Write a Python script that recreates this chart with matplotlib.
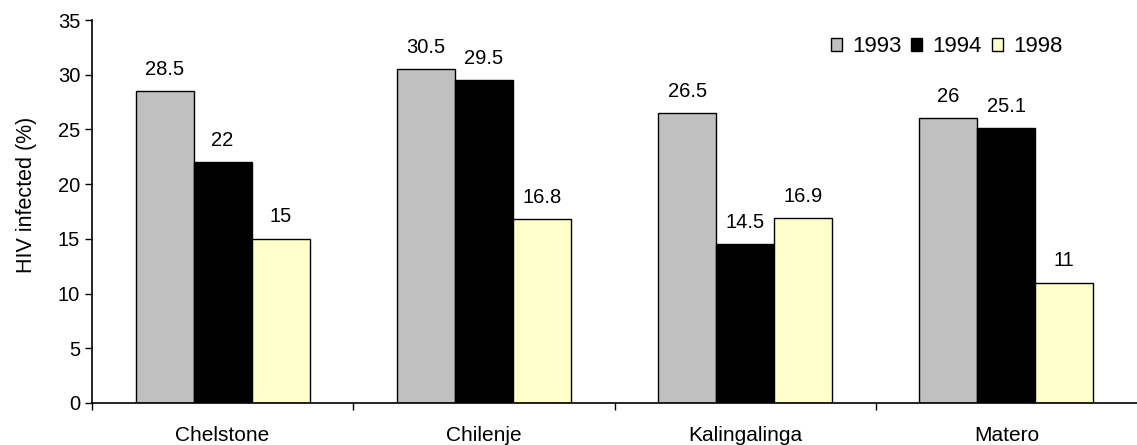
import matplotlib
matplotlib.use("Agg")
import matplotlib.pyplot as plt
import numpy as np

# HIV prevalence by clinic and survey year
sites = ["Chelstone", "Chilenje", "Kalingalinga", "Matero"]
years = ["1993", "1994", "1998"]
values_1993 = [28.5, 30.5, 26.5, 26]
values_1994 = [22, 29.5, 14.5, 25.1]
values_1998 = [15, 16.8, 16.9, 11]
y_ticks = [0, 5, 10, 15, 20, 25, 30, 35]

series = [values_1993, values_1994, values_1998]
colors = ["#C0C0C0", "#000000", "#FFFFCC"]

plt.rcParams["font.family"] = ["Liberation Sans", "DejaVu Sans"]

fig = plt.figure(figsize=(11.37, 4.45), dpi=100)
ax = fig.add_axes([92 / 1137, 1 - 403 / 445, 1 - 92 / 1137, (403 - 20) / 445])

x = np.arange(len(sites))
width = 0.222
offsets = [-width, 0, width]

for vals, off, col, yr in zip(series, offsets, colors, years):
    bars = ax.bar(x + off, vals, width, color=col, edgecolor="black",
                  linewidth=1.0, label=yr)
    for b, v in zip(bars, vals):
        ax.annotate(f"{v:g}", (b.get_x() + b.get_width() / 2, v),
                    xytext=(0, 9), textcoords="offset points",
                    ha="center", va="bottom", fontsize=14.5)

ax.set_xlim(-0.5, len(sites) - 0.5)
ax.set_ylim(0, 35)
ax.set_yticks(y_ticks)
ax.tick_params(axis="y", labelsize=14.5, length=5, width=1, direction="out")
ax.set_ylabel("HIV infected (%)", fontsize=15.5)
ax.yaxis.set_label_coords(-0.053, 0.543)

# group separators as major ticks, site names centred as minor labels
ax.set_xticks(np.arange(-0.5, len(sites) - 0.5, 1.0))
ax.set_xticklabels([])
ax.set_xticks(x, minor=True)
ax.set_xticklabels(sites, minor=True, fontsize=15)
ax.tick_params(axis="x", which="major", length=5, width=1, direction="out")
ax.tick_params(axis="x", which="minor", length=0, pad=16.5)

for s in ["top", "right"]:
    ax.spines[s].set_visible(False)
for s in ["left", "bottom"]:
    ax.spines[s].set_linewidth(1.2)

ax.legend(loc="center right", bbox_to_anchor=(0.939, 0.93), ncol=3,
          frameon=False, fontsize=16, handlelength=0.5, handleheight=0.5,
          handletextpad=0.45, columnspacing=0.45, borderpad=0)

fig.savefig("out.png", dpi=100)
